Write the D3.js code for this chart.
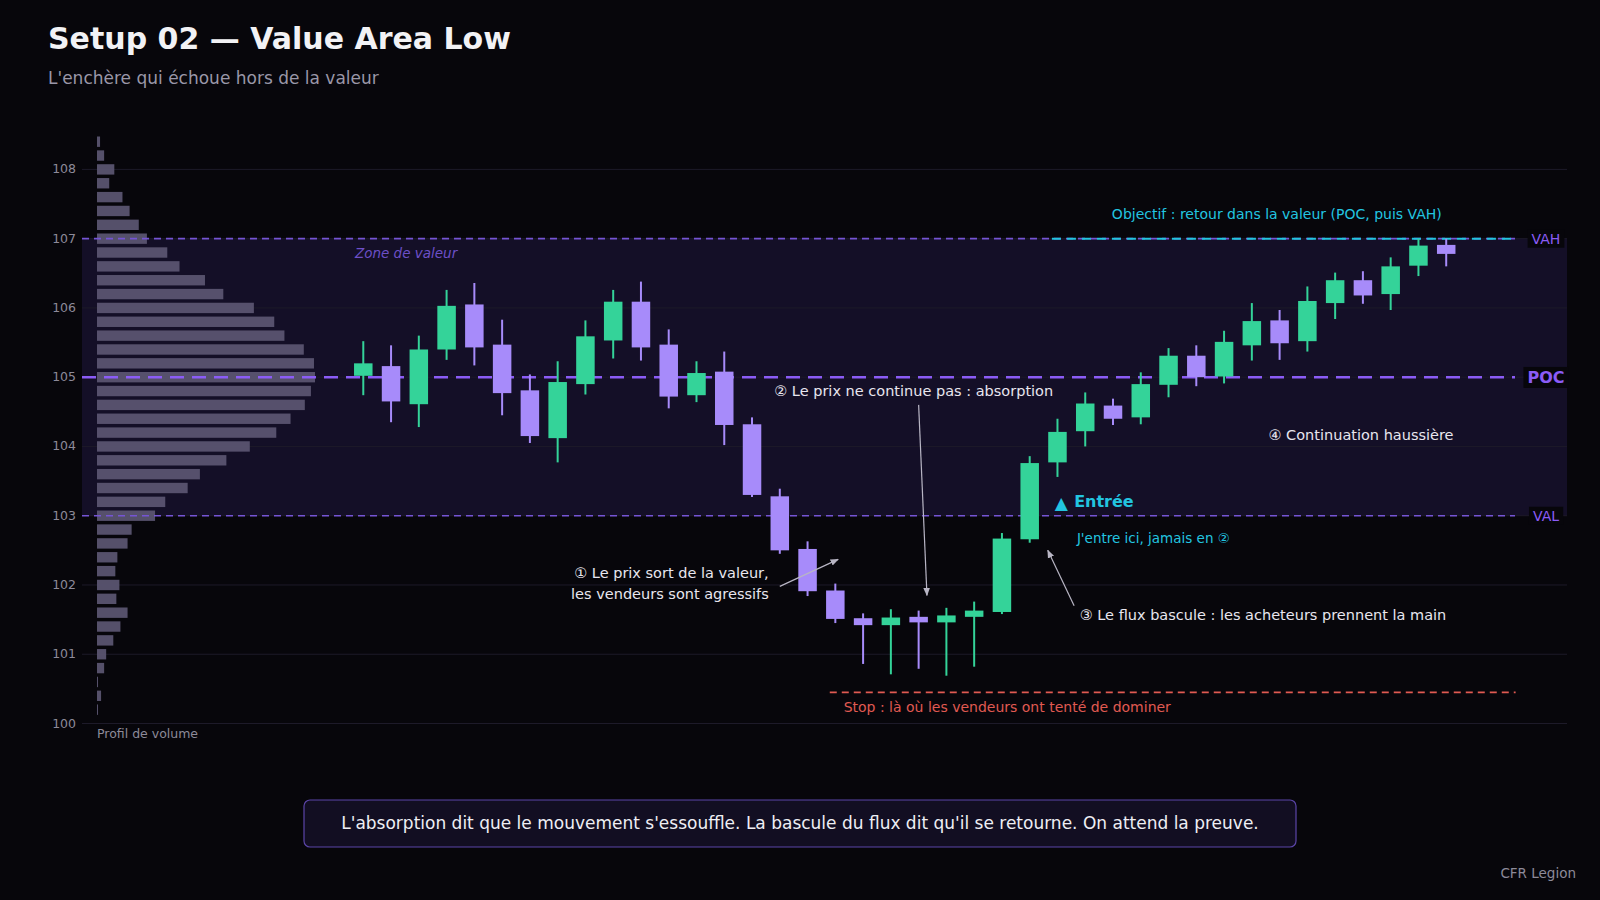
<!DOCTYPE html>
<html><head><meta charset="utf-8">
<script src="https://cdn.jsdelivr.net/npm/d3@7"></script>
<style>
body { margin:0; background:#07060b; }
svg { display:block; font-family:"DejaVu Sans", sans-serif; }
</style></head>
<body>
<svg id="c" width="1600" height="900"></svg>
<script>
// candles, one per bar: open / high / low / close
const opens  = [105.02,105.16,104.61,105.40,106.05,105.47,104.81,104.12,104.90,105.53,106.09,105.47,104.74,105.08,104.32,103.28,102.52,101.92,101.52,101.42,101.54,101.46,101.54,101.61,102.66,103.77,104.22,104.59,104.42,104.89,105.31,105.01,105.46,105.82,105.52,106.07,106.40,106.20,106.61,106.91];
const closes = [105.20,104.65,105.40,106.03,105.43,104.77,104.15,104.93,105.59,106.09,105.43,104.72,105.06,104.31,103.30,102.50,101.91,101.51,101.42,101.53,101.46,101.56,101.63,102.67,103.76,104.21,104.62,104.40,104.90,105.31,105.00,105.51,105.81,105.49,106.10,106.40,106.18,106.60,106.90,106.78];
const highs  = [105.52,105.46,105.60,106.26,106.36,105.83,105.04,105.23,105.82,106.26,106.38,105.69,105.23,105.37,104.42,103.39,102.63,102.02,101.59,101.65,101.63,101.67,101.76,102.75,103.86,104.40,104.78,104.69,105.07,105.42,105.46,105.67,106.07,105.97,106.31,106.51,106.53,106.73,107.00,107.00];
const lows   = [104.74,104.35,104.28,105.25,105.17,104.45,104.05,103.77,104.75,105.27,105.24,104.55,104.64,104.02,103.27,102.45,101.84,101.45,100.86,100.71,100.79,100.69,100.82,101.58,102.61,103.56,104.00,104.31,104.32,104.71,104.87,104.91,105.24,105.25,105.37,105.84,106.06,105.97,106.46,106.60];

// volume profile, bins of 0.2 from 100.2 up to 108.4
const profilePrices = d3.range(42).map(i => +(100.2 + i * 0.2).toFixed(1));
const profileVolumes = [1,4,1,7,9,16,23,30,19,22,18,20,30,34,57,67,89,101,127,150,176,190,204,210,214,213,203,184,174,154,124,106,81,69,49,41,32,25,12,17,7,3];

const yTicks = [100,101,102,103,104,105,106,107,108];
const VAL = 103, POC = 105, VAH = 107, STOP = 100.45;

const svg = d3.select("#c");
const W = 1600, H = 900;
svg.append("rect").attr("width", W).attr("height", H).attr("fill", "#07060b");

const x = d3.scaleLinear().domain([-10.13, 43.35]).range([82, 1567]);
const y = d3.scaleLinear().domain([100, 108]).range([723.5, 169.4]);
const xv = d3.scaleLinear().domain([0, 214]).range([97, 315]);
const green = "#34d399", purple = "#a78bfa", violet = "#8b5cf6", cyan = "#22c5e0";

// title
svg.append("text").attr("x", 48).attr("y", 49).attr("fill", "#f2f2f5")
  .attr("font-size", 30).attr("font-weight", "bold").text("Setup 02 — Value Area Low");
svg.append("text").attr("x", 48).attr("y", 84).attr("fill", "#9a97a8")
  .attr("font-size", 17).text("L'enchère qui échoue hors de la valeur");

// value area band
svg.append("rect").attr("x", x.range()[0]).attr("width", x.range()[1] - x.range()[0])
  .attr("y", y(VAH)).attr("height", y(VAL) - y(VAH)).attr("fill", "#140f27");

// grid + y labels
svg.append("g").selectAll("line").data(yTicks).join("line")
  .attr("x1", x.range()[0]).attr("x2", x.range()[1])
  .attr("y1", d => y(d)).attr("y2", d => y(d))
  .attr("stroke", "#1d1a29").attr("stroke-width", 1);
svg.append("g").selectAll("text").data(yTicks).join("text")
  .attr("x", 76).attr("y", d => y(d) + 4).attr("text-anchor", "end")
  .attr("fill", "#8d8a99").attr("font-size", 12.5).text(d => d);

// volume profile
svg.append("g").selectAll("rect").data(profilePrices).join("rect")
  .attr("x", xv(0)).attr("width", (d, i) => xv(profileVolumes[i]) - xv(0))
  .attr("y", d => y(d + 0.075)).attr("height", y(100) - y(100.15))
  .attr("fill", "#5a5470").attr("opacity", 0.95);
svg.append("text").attr("x", 97).attr("y", 738).attr("fill", "#8d8a99")
  .attr("font-size", 12.5).text("Profil de volume");

// levels
function level(v, w, dash, col, x2) {
  svg.append("line").attr("x1", x.range()[0]).attr("x2", x2)
    .attr("y1", y(v)).attr("y2", y(v)).attr("stroke", col)
    .attr("stroke-width", w).attr("stroke-dasharray", dash);
}
level(VAH, 1.6, "7,5", "#7554d4", 1515);
level(VAL, 1.6, "7,5", "#7554d4", 1515);
level(POC, 2.6, "14,8", violet, 1515);

function tag(v, label, bold, size) {
  const g = svg.append("g");
  const t = g.append("text").attr("x", 1546).attr("y", y(v) + size * 0.36)
    .attr("text-anchor", "middle").attr("fill", violet).attr("font-size", size)
    .attr("font-weight", bold ? "bold" : "normal").text(label);
  const b = t.node().getBBox();
  g.insert("rect", "text").attr("x", b.x - 4).attr("y", b.y - 1)
    .attr("width", b.width + 8).attr("height", b.height + 2).attr("fill", "#07060b");
}
tag(VAH, "VAH", false, 14);
tag(POC, "POC", true, 16);
tag(VAL, "VAL", false, 14);

svg.append("text").attr("x", x(-0.3)).attr("y", y(VAH) + 19).attr("fill", "#6d50c8")
  .attr("font-size", 13.5).attr("font-style", "italic").text("Zone de valeur");

// objective
svg.append("line").attr("x1", x(24.8)).attr("x2", x(41.5))
  .attr("y1", y(VAH)).attr("y2", y(VAH)).attr("stroke", cyan)
  .attr("stroke-width", 2).attr("stroke-dasharray", "9,6");
svg.append("text").attr("x", x(32.9)).attr("y", y(VAH) - 20).attr("text-anchor", "middle")
  .attr("fill", cyan).attr("font-size", 14).text("Objectif : retour dans la valeur (POC, puis VAH)");

// stop
svg.append("line").attr("x1", x(16.8)).attr("x2", x(41.5))
  .attr("y1", y(STOP)).attr("y2", y(STOP)).attr("stroke", "#e05a52")
  .attr("stroke-width", 1.6).attr("stroke-dasharray", "7,5");
svg.append("text").attr("x", x(17.3)).attr("y", y(STOP) + 20).attr("fill", "#e05a52")
  .attr("font-size", 14).text("Stop : là où les vendeurs ont tenté de dominer");

// candles
const idx = d3.range(opens.length);
const cw = 18.5;
const cg = svg.append("g");
cg.selectAll("line").data(idx).join("line")
  .attr("x1", i => x(i)).attr("x2", i => x(i))
  .attr("y1", i => y(highs[i])).attr("y2", i => y(lows[i]))
  .attr("stroke", i => closes[i] >= opens[i] ? green : purple).attr("stroke-width", 2);
cg.selectAll("rect").data(idx).join("rect")
  .attr("x", i => x(i) - cw / 2).attr("width", cw)
  .attr("y", i => y(Math.max(opens[i], closes[i])))
  .attr("height", i => Math.max(2, Math.abs(y(opens[i]) - y(closes[i]))))
  .attr("fill", i => closes[i] >= opens[i] ? green : purple);

// annotations
svg.append("defs").append("marker").attr("id", "ah").attr("viewBox", "0 0 10 10")
  .attr("refX", 9).attr("refY", 5).attr("markerWidth", 7).attr("markerHeight", 7)
  .attr("orient", "auto").append("path").attr("d", "M0,1L10,5L0,9z").attr("fill", "#b8b5c4");
function arrow(x1, y1, x2, y2) {
  svg.append("line").attr("x1", x1).attr("y1", y1).attr("x2", x2).attr("y2", y2)
    .attr("stroke", "#b8b5c4").attr("stroke-width", 1.2).attr("marker-end", "url(#ah)");
}
function note(tx, ty, str, anchor, col, size, weight) {
  svg.append("text").attr("x", tx).attr("y", ty).attr("text-anchor", anchor || "start")
    .attr("fill", col || "#e8e6ef").attr("font-size", size || 14.5)
    .attr("font-weight", weight || "normal").text(str);
}
note(x(14.6), y(102.1), "① Le prix sort de la valeur,", "end");
note(x(14.6), y(101.8), "les vendeurs sont agressifs", "end");
arrow(x(15.0), y(101.98), x(17.1), y(102.37));
note(x(14.8), y(104.73), "② Le prix ne continue pas : absorption");
arrow(x(20.0), y(104.6), x(20.3), y(101.85));
note(x(24.9), y(103.1), "▲", "start", cyan, 17, "bold");
note(x(25.6), y(103.12), "Entrée", "start", cyan, 16, "bold");
note(x(25.7), y(102.6), "J'entre ici, jamais en ②", "start", cyan, 13.5);
note(x(25.8), y(101.5), "③ Le flux bascule : les acheteurs prennent la main");
arrow(x(25.6), y(101.7), x(24.65), y(102.5));
note(x(32.6), y(104.1), "④ Continuation haussière");

// caption box
svg.append("rect").attr("x", 304).attr("y", 800).attr("width", 992).attr("height", 47)
  .attr("rx", 6).attr("fill", "#120e22").attr("stroke", "#5b45a8").attr("stroke-width", 1.2);
note(800, 829, "L'absorption dit que le mouvement s'essouffle. La bascule du flux dit qu'il se retourne. On attend la preuve.", "middle", "#eeeef4", 17);
note(1576, 878, "CFR Legion", "end", "#8d8a99", 13.5);
</script>
</body></html>
